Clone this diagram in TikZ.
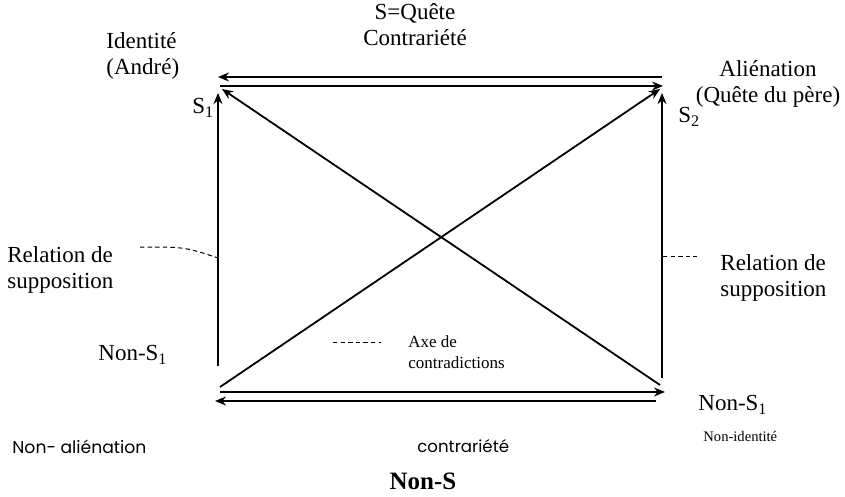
\documentclass[tikz,border=0pt]{standalone}
\usepackage{fontspec}
\setmainfont{Liberation Serif}
\newfontfamily\gothic{Poppins}
\usetikzlibrary{arrows.meta}
\tikzset{
	fleche/.style={line width=.9pt,-{Stealth[length=5.5pt,width=4.5pt]}},
	tiret/.style={line width=.5pt,dash pattern=on 2.2pt off 1.6pt},
	txt/.style={inner sep=0pt,font=\fontsize{11.5}{13}\selectfont,align=left},
	petit/.style={inner sep=0pt,font=\fontsize{8.5}{10.5}\selectfont,align=left},
	gothique/.style={inner sep=0pt,font=\gothic\fontsize{8.6}{10}\selectfont}
}
\begin{document}
\begin{tikzpicture}[x=.5pt,y=-.5pt]
	\useasboundingbox (0,0) rectangle (845,497);
	% extremites des fleches
	\coordinate (hg1) at (218,77); \coordinate (hd1) at (662,77);% haut, dessus
	\coordinate (hg2) at (220,86); \coordinate (hd2) at (663,86);% haut, dessous
	\coordinate (bg1) at (220,392); \coordinate (bd1) at (665,392);% bas, dessus
	\coordinate (bg2) at (215,401); \coordinate (bd2) at (656,401);% bas, dessous
	\coordinate (gB) at (218,366); \coordinate (gH) at (218,93);% verticale gauche
	\coordinate (dB) at (662,378); \coordinate (dH) at (662,93);% verticale droite
	\coordinate (d1a) at (220,387); \coordinate (d1b) at (660,89);% diagonale montante
	\coordinate (d2a) at (660,385); \coordinate (d2b) at (222,89);% diagonale descendante
	% fleches
	\draw[fleche] (hd1) -- (hg1);
	\draw[fleche] (hg2) -- (hd2);
	\draw[fleche] (bg1) -- (bd1);
	\draw[fleche] (bd2) -- (bg2);
	\draw[fleche] (gB) -- (gH);
	\draw[fleche] (dB) -- (dH);
	\draw[fleche] (d1a) -- (d1b);
	\draw[fleche] (d2a) -- (d2b);
	% pointilles
	\coordinate (tg1) at (140,247); \coordinate (tg2) at (218,258);
	\draw[tiret] (tg1) .. controls (185,247) .. (tg2);
	\coordinate (td1) at (663,256); \coordinate (td2) at (697,256);
	\draw[tiret] (td1) -- (td2);
	\coordinate (ta1) at (333,342); \coordinate (ta2) at (381,342);
	\draw[tiret] (ta1) -- (ta2);
	% textes
	\node[txt,align=center] (S) at (415,25) {S=Quête\\Contrariété};
	\node[txt,anchor=west] (ident) at (106,56) {Identité\\(André)};
	\node[txt,anchor=west] (S1) at (192,108) {S\textsubscript{1}};
	\node[txt,align=center] (alien) at (768,84) {Aliénation\\(Quête du père)};
	\node[txt,anchor=west] (S2) at (678,117) {S\textsubscript{2}};
	\node[txt,anchor=west] (relg) at (7,270) {Relation de\\supposition};
	\node[txt,anchor=west] (reld) at (720,278) {Relation de\\supposition};
	\node[txt,anchor=west] (nonS1g) at (98,355) {Non-S\textsubscript{1}};
	\node[petit,anchor=west] (axe) at (408,352) {Axe de\\contradictions};
	\node[txt,anchor=west] (nonS1d) at (698,405) {Non-S\textsubscript{1}};
	\node[petit,anchor=west,font=\fontsize{7.3}{9}\selectfont] (nonid) at (703,436) {Non-identité};
	\node[gothique,anchor=west] (nonal) at (12,447) {Non- aliénation};
	\node[gothique,anchor=west,font=\gothic\fontsize{8.3}{10}\selectfont] (contr) at (417,446) {contrariété};
	\node[txt,font=\bfseries\fontsize{12.5}{14}\selectfont] (nonS) at (423,481) {Non-S};
\end{tikzpicture}
\end{document}
